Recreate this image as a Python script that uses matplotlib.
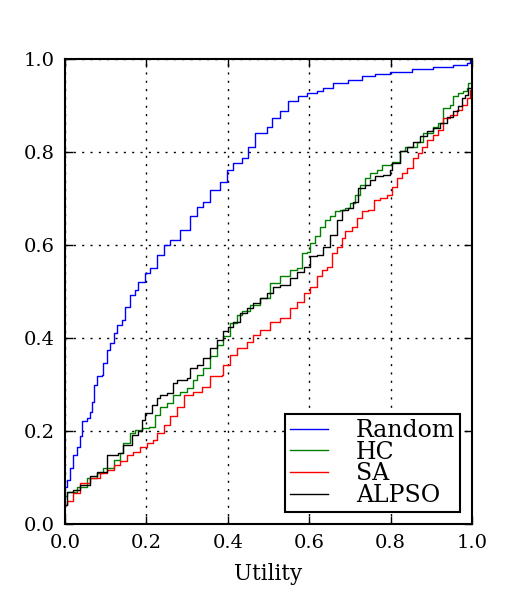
import numpy as np
import matplotlib
matplotlib.use('Agg')
from matplotlib import pyplot as plt

# step curves (utility, cumulative fraction)
rand_x = [0.0, 0.004, 0.012, 0.02, 0.029, 0.037, 0.041, 0.053, 0.061, 0.066, 0.07, 0.078, 0.09, 0.094,
          0.102, 0.111, 0.119, 0.127, 0.139, 0.147, 0.16, 0.172, 0.18, 0.197, 0.209, 0.225, 0.242,
          0.258, 0.283, 0.307, 0.324, 0.34, 0.356, 0.381, 0.397, 0.413, 0.434, 0.45, 0.467, 0.496,
          0.508, 0.528, 0.549, 0.573, 0.594, 0.618, 0.635, 0.659, 0.696, 0.729, 0.762, 0.799, 0.852,
          0.905, 0.954, 0.987, 0.995, 1.0]
rand_y = [0.08, 0.095, 0.12, 0.148, 0.166, 0.188, 0.22, 0.228, 0.24, 0.263, 0.299, 0.317, 0.32, 0.346,
          0.374, 0.389, 0.41, 0.428, 0.439, 0.467, 0.492, 0.503, 0.521, 0.539, 0.55, 0.578, 0.6,
          0.611, 0.632, 0.661, 0.682, 0.693, 0.718, 0.736, 0.761, 0.776, 0.786, 0.811, 0.84, 0.854,
          0.872, 0.887, 0.909, 0.919, 0.926, 0.93, 0.937, 0.948, 0.955, 0.962, 0.967, 0.971, 0.977,
          0.982, 0.986, 0.991, 0.998, 1.0]

hc_x = [0.0, 0.004, 0.029, 0.053, 0.078, 0.094, 0.119, 0.135, 0.143, 0.16, 0.172, 0.188, 0.205, 0.221,
        0.233, 0.25, 0.266, 0.283, 0.299, 0.315, 0.324, 0.34, 0.356, 0.373, 0.389, 0.405, 0.422,
        0.434, 0.455, 0.479, 0.504, 0.528, 0.553, 0.569, 0.582, 0.594, 0.602, 0.614, 0.627, 0.639,
        0.651, 0.663, 0.676, 0.688, 0.7, 0.713, 0.725, 0.737, 0.749, 0.766, 0.778, 0.803, 0.823,
        0.835, 0.864, 0.88, 0.905, 0.917, 0.93, 0.946, 0.954, 0.966, 0.979, 0.987, 0.991, 0.999, 1.0]
hc_y = [0.06, 0.069, 0.08, 0.098, 0.109, 0.12, 0.138, 0.152, 0.174, 0.195, 0.202, 0.206, 0.209, 0.234,
        0.252, 0.26, 0.277, 0.284, 0.292, 0.31, 0.32, 0.335, 0.36, 0.385, 0.403, 0.432, 0.449,
        0.457, 0.471, 0.485, 0.518, 0.532, 0.546, 0.55, 0.582, 0.585, 0.604, 0.618, 0.639, 0.654,
        0.661, 0.672, 0.675, 0.679, 0.69, 0.708, 0.729, 0.743, 0.754, 0.761, 0.772, 0.779, 0.801,
        0.811, 0.822, 0.84, 0.854, 0.862, 0.894, 0.901, 0.919, 0.926, 0.93, 0.937, 0.948, 1.0, 1.0]

sa_x = [0.0, 0.004, 0.02, 0.037, 0.061, 0.086, 0.102, 0.119, 0.135, 0.152, 0.168, 0.184, 0.201, 0.217,
        0.225, 0.242, 0.258, 0.274, 0.291, 0.315, 0.336, 0.356, 0.385, 0.389, 0.405, 0.422, 0.446,
        0.463, 0.479, 0.504, 0.528, 0.553, 0.569, 0.586, 0.602, 0.618, 0.631, 0.643, 0.655, 0.668,
        0.68, 0.688, 0.704, 0.717, 0.729, 0.745, 0.758, 0.774, 0.79, 0.803, 0.815, 0.827, 0.84,
        0.856, 0.868, 0.876, 0.889, 0.905, 0.917, 0.93, 0.946, 0.962, 0.975, 0.987, 0.995, 0.999, 1.0]
sa_y = [0.04, 0.048, 0.066, 0.088, 0.098, 0.109, 0.116, 0.127, 0.134, 0.148, 0.155, 0.166, 0.174, 0.181,
        0.195, 0.213, 0.231, 0.252, 0.277, 0.284, 0.295, 0.317, 0.32, 0.342, 0.363, 0.378, 0.392,
        0.406, 0.417, 0.435, 0.442, 0.464, 0.478, 0.496, 0.51, 0.532, 0.546, 0.553, 0.582, 0.596,
        0.614, 0.629, 0.639, 0.657, 0.672, 0.675, 0.697, 0.7, 0.708, 0.725, 0.743, 0.754, 0.765,
        0.786, 0.797, 0.811, 0.826, 0.837, 0.847, 0.872, 0.88, 0.89, 0.901, 0.915, 0.933, 1.0, 1.0]

alpso_x = [0.0, 0.004, 0.02, 0.037, 0.061, 0.078, 0.102, 0.131, 0.143, 0.164, 0.18, 0.188, 0.197, 0.213,
           0.225, 0.233, 0.25, 0.266, 0.274, 0.299, 0.307, 0.324, 0.34, 0.356, 0.373, 0.389, 0.401,
           0.413, 0.43, 0.446, 0.463, 0.479, 0.496, 0.512, 0.528, 0.553, 0.569, 0.586, 0.602, 0.618,
           0.635, 0.651, 0.668, 0.68, 0.696, 0.708, 0.721, 0.737, 0.749, 0.762, 0.782, 0.799, 0.803,
           0.823, 0.84, 0.856, 0.872, 0.889, 0.905, 0.921, 0.938, 0.954, 0.966, 0.975, 0.983, 0.991,
           0.999, 1.0]
alpso_y = [0.04, 0.069, 0.073, 0.084, 0.102, 0.112, 0.148, 0.152, 0.17, 0.191, 0.199, 0.224, 0.238, 0.256,
           0.27, 0.277, 0.281, 0.302, 0.31, 0.313, 0.335, 0.342, 0.356, 0.378, 0.396, 0.414, 0.424,
           0.435, 0.453, 0.464, 0.475, 0.485, 0.496, 0.51, 0.514, 0.528, 0.542, 0.553, 0.575, 0.578,
           0.596, 0.622, 0.654, 0.675, 0.679, 0.693, 0.722, 0.729, 0.74, 0.747, 0.751, 0.761, 0.776,
           0.801, 0.811, 0.822, 0.833, 0.844, 0.851, 0.862, 0.875, 0.887, 0.898, 0.915, 0.923, 0.937,
           1.0, 1.0]

labels = ['Random', 'HC', 'SA', 'ALPSO']
colors = ['b', 'g', 'r', 'k']

plt.rcParams['font.family'] = 'DejaVu Serif'
plt.rcParams['font.size'] = 14

fig = plt.figure(figsize=(5.25, 6.0), dpi=100)
ax = fig.add_axes([0.124, 0.127, 0.775, 0.775])

series = [(rand_x, rand_y), (hc_x, hc_y), (sa_x, sa_y), (alpso_x, alpso_y)]
for (xs, ys), lab, col in zip(series, labels, colors):
    ax.plot(xs, ys, drawstyle='steps-post', color=col, lw=1.0, label=lab)

ax.set_xlim(0, 1)
ax.set_ylim(0, 1)
ax.set_xticks(np.arange(0, 1.01, 0.2))
ax.set_yticks(np.arange(0, 1.01, 0.2))
ax.set_xlabel('Utility', fontsize=15.5, labelpad=8)
ax.grid(True, color='k', linestyle=(0, (1.5, 4.5)), linewidth=1.0)
ax.tick_params(direction='in', top=True, right=True, length=6, width=1, pad=7.5, labelsize=14)
for s in ax.spines.values():
    s.set_linewidth(1.5)

leg = ax.legend(loc='lower right', fontsize=17, labelspacing=-0.05, handlelength=1.6,
                handletextpad=1.2, borderpad=0.2, fancybox=False, framealpha=1)
leg.get_frame().set_edgecolor('k')
leg.get_frame().set_linewidth(1.5)

plt.savefig('out.png', dpi=100, facecolor='white')
